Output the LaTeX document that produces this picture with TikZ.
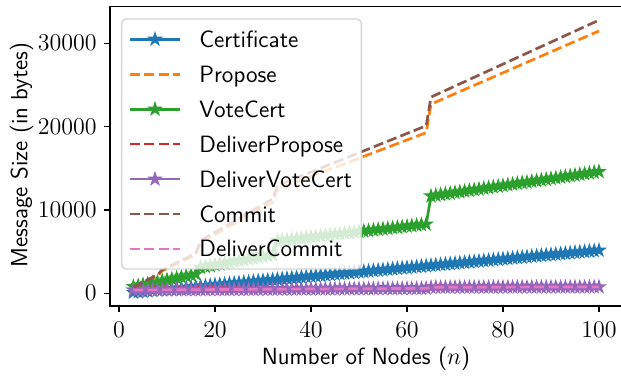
\documentclass[tikz,border=0pt]{standalone}
\usepackage{fontspec}
\usetikzlibrary{plotmarks}
\definecolor{cA}{HTML}{1F77B4}
\definecolor{cB}{HTML}{FF7F0E}
\definecolor{cC}{HTML}{2CA02C}
\definecolor{cD}{HTML}{D62728}
\definecolor{cE}{HTML}{9467BD}
\definecolor{cF}{HTML}{8C564B}
\definecolor{cG}{HTML}{E377C2}
\definecolor{lgedge}{HTML}{CCCCCC}
\pgfdeclareplotmark{fstar}{%
  \pgfpathmoveto{\pgfqpointpolar{90}{\pgfplotmarksize}}%
  \pgfpathlineto{\pgfqpointpolar{126}{0.382\pgfplotmarksize}}%
  \pgfpathlineto{\pgfqpointpolar{162}{\pgfplotmarksize}}%
  \pgfpathlineto{\pgfqpointpolar{198}{0.382\pgfplotmarksize}}%
  \pgfpathlineto{\pgfqpointpolar{234}{\pgfplotmarksize}}%
  \pgfpathlineto{\pgfqpointpolar{270}{0.382\pgfplotmarksize}}%
  \pgfpathlineto{\pgfqpointpolar{306}{\pgfplotmarksize}}%
  \pgfpathlineto{\pgfqpointpolar{342}{0.382\pgfplotmarksize}}%
  \pgfpathlineto{\pgfqpointpolar{18}{\pgfplotmarksize}}%
  \pgfpathlineto{\pgfqpointpolar{54}{0.382\pgfplotmarksize}}%
  \pgfpathclose
  \pgfusepathqfillstroke}
\tikzset{
  declare function={
    prop(\x) = (\x<4.5) ? (0.70+(\x-3)*0.2) : ((\x<8.5) ? (1.30+(\x-5)*0.2667) : ((\x<16.5) ? (2.70+(\x-9)*0.2714) : ((\x<32.5) ? (6.10+(\x-17)*0.32) : ((\x<64.5) ? (12.5+(\x-33)*0.2184) : (22.7+(\x-65)*0.25086)))));
    comm(\x) = prop(\x) + 0.013*\x;
    vote(\x) = (\x<16.5) ? (0.80+(\x-3)*0.11538) : ((\x<32.5) ? (3.10+(\x-17)*0.1) : ((\x<64.5) ? (6.30+(\x-33)*0.0645) : (11.67+(\x-65)*0.08371)));
    cert(\x) = 0.052*\x - 0.04;
    dvc(\x) = (\x<64.5) ? (0.38+0.0033*\x) : (0.64+0.0012*\x);
    dprop(\x) = dvc(\x) + 0.25;
  },
  serstar/.style={line width=1.35pt, color=#1, mark=fstar, mark size=2.7pt,
    mark options={solid, fill=#1, draw=#1, line width=0.9pt}},
  serdash/.style={line width=1.35pt, color=#1, dash pattern=on 5pt off 2.16pt},
  spine/.style={line width=0.72pt, line cap=rect, black},
  tickmark/.style={line width=0.72pt, black},
  ticklab/.style={inner sep=0pt, text height=7.5pt, text depth=0pt},
  legtext/.style={anchor=base west, inner sep=0pt, font=\fontsize{11.8}{14}\selectfont\sffamily},
  axlabel/.style={inner sep=0pt, font=\fontsize{11.7}{14}\selectfont\sffamily},
}
\begin{document}
\begin{tikzpicture}[x=0.5pt, y=0.5pt, font=\fontsize{11.6}{14}\selectfont]
\useasboundingbox (0,0) rectangle (621,375);
% data
\begin{scope}[shift={(119,81.7)}, x=2.4pt, y=4.1667pt]
  \draw[serstar=cA] plot[domain=3:100, samples=98] (\x,{cert(\x)});
  \draw[serdash=cB] plot[domain=3:100, samples=98] (\x,{prop(\x)});
  \draw[serstar=cC] plot[domain=3:100, samples=98] (\x,{vote(\x)});
  \draw[serdash=cD] plot[domain=3:100, samples=98] (\x,{dprop(\x)});
  \draw[serstar=cE] plot[domain=3:100, samples=98] (\x,{dvc(\x)});
  \draw[serdash=cF] plot[domain=3:100, samples=98] (\x,{comm(\x)});
  \draw[serdash=cG] plot[domain=3:100, samples=98] (\x,{dvc(\x)});
\end{scope}
% spines
\draw[spine] (110,368.3) -- (110,69) -- (623,69);
\draw[spine] (110,368.3) -- (623,368.3);
% x ticks
\foreach \k/\lab in {0/0,1/20,2/40,3/60,4/80,5/100} {
  \draw[tickmark] (119+96*\k,69) -- (119+96*\k,62.7);
  \node[ticklab] (xt\k) at (119+96*\k,45) {$\lab$};
}
% y ticks
\foreach \k/\lab in {0/0,1/10000,2/20000,3/30000} {
  \draw[tickmark] (110,81.7+83.333*\k) -- (103.7,81.7+83.333*\k);
  \node[ticklab, anchor=east] (yt\k) at (97,81.7+83.333*\k) {$\lab$};
}
% axis labels
\node[axlabel, anchor=base] (xlab) at (366,10.7) {Number of Nodes ($n$)};
\node[axlabel, anchor=base, rotate=90] (ylab) at (27.5,220) {Message Size (in bytes)};
% legend
\draw[fill=white, fill opacity=0.8, draw=lgedge, draw opacity=0.8, line width=0.72pt, rounded corners=2.2pt]
  (121.7,106) rectangle (361.3,356);
\draw[serstar=cA, mark indices={2}] plot coordinates {(130,335.7) (155,335.7) (180,335.7)};
\node[legtext] (lg1) at (199,327.7) {Certificate};
\draw[serdash=cB] (130,300.75) -- (180,300.75);
\node[legtext] (lg2) at (199,292.75) {Propose};
\draw[serstar=cC, mark indices={2}] plot coordinates {(130,265.8) (155,265.8) (180,265.8)};
\node[legtext] (lg3) at (199,257.8) {VoteCert};
\draw[serdash=cD] (130,230.85) -- (180,230.85);
\node[legtext] (lg4) at (199,222.85) {DeliverPropose};
\draw[serstar=cE, mark indices={2}] plot coordinates {(130,195.9) (155,195.9) (180,195.9)};
\node[legtext] (lg5) at (199,187.9) {DeliverVoteCert};
\draw[serdash=cF] (130,160.95) -- (180,160.95);
\node[legtext] (lg6) at (199,152.95) {Commit};
\draw[serdash=cG] (130,126) -- (180,126);
\node[legtext] (lg7) at (199,118) {DeliverCommit};
\end{tikzpicture}
\end{document}
